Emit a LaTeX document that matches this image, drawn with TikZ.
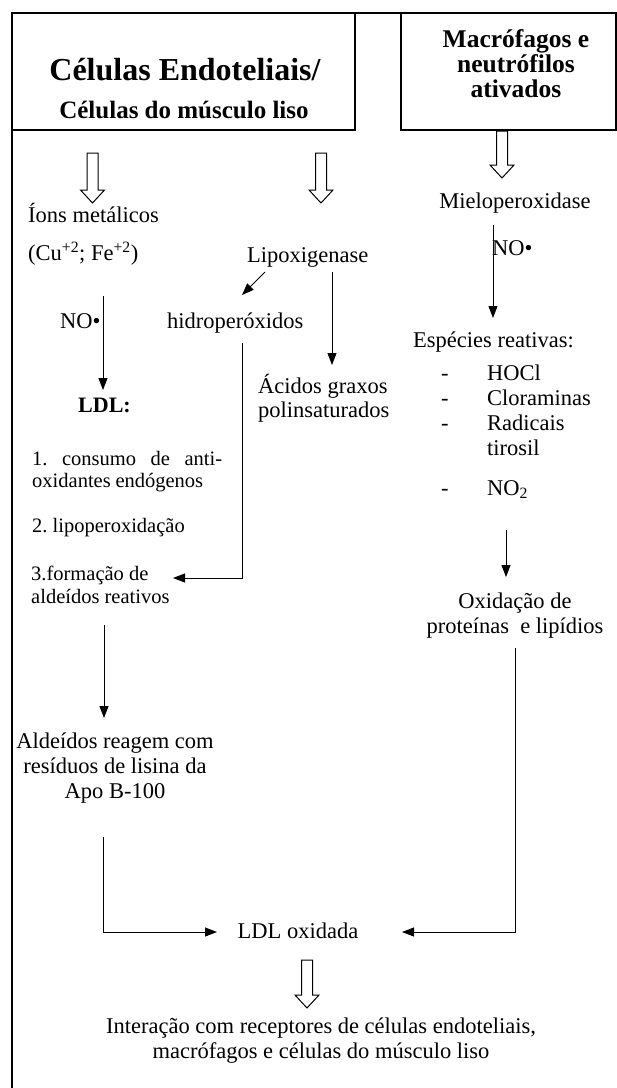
\documentclass[tikz,border=0pt]{standalone}
\usepackage{fontspec}
\setmainfont{Liberation Serif}
\usetikzlibrary{arrows.meta}
\newcommand\hollowarr[4]{%
  \draw[hollow] (#1-5.5,#2) -- (#1+5.5,#2) -- (#1+5.5,#3) -- (#1+12,#3) -- (#1,#4) -- (#1-12,#3) -- (#1-5.5,#3) -- cycle;}
\begin{document}
\frenchspacing
\begin{tikzpicture}[x=1pt,y=-1pt,
  txt/.style={inner sep=0pt, font=\fontsize{22.5}{25}\selectfont},
  sm/.style={inner sep=0pt, font=\fontsize{20.5}{22}\selectfont},
  boxst/.style={draw, line width=1.6pt, inner sep=0pt},
  frame/.style={line width=1.6pt},
  hollow/.style={line width=1pt, fill=white, line join=miter},
  arr/.style={line width=0.9pt, -{Triangle[length=12pt,width=9pt]}},
  lin/.style={line width=0.9pt}]
\useasboundingbox (0,0) rectangle (617,1088);
% frame and boxes
\draw[frame] (12,1088) -- (12,13) -- (617,13);
\node[boxst, minimum width=343pt, minimum height=117pt] (lbox) at (183.5,71.5) {};
\node[boxst, minimum width=215pt, minimum height=117pt] (rbox) at (508.5,71.5) {};
\node[inner sep=0pt, font=\fontsize{32}{34}\bfseries\selectfont, anchor=base] (t1) at (185,80) {Células Endoteliais/};
\node[inner sep=0pt, font=\fontsize{25}{27}\bfseries\selectfont, anchor=base] (t2) at (184,118) {Células do músculo liso};
\node[inner sep=0pt, font=\fontsize{25.5}{25}\bfseries\selectfont, anchor=base] (m1) at (516,47) {Macrófagos e};
\node[inner sep=0pt, font=\fontsize{25.5}{25}\bfseries\selectfont, anchor=base] (m2) at (516,72) {neutrófilos};
\node[inner sep=0pt, font=\fontsize{25.5}{25}\bfseries\selectfont, anchor=base] (m3) at (516,97) {ativados};
% hollow arrows
\hollowarr{92.5}{153}{190}{203}
\hollowarr{321}{153}{190}{203}
\hollowarr{502}{131}{165}{178}
\hollowarr{307}{960}{995}{1008}
% left column
\node[txt, anchor=base west] (ions) at (28,222) {Íons metálicos};
\node[txt, anchor=base west] (cufe) at (28,260) {(Cu\textsuperscript{+2}; Fe\textsuperscript{+2})};
\node[txt, anchor=base west] (no1) at (60,328) {NO•};
\node[inner sep=0pt, font=\fontsize{22}{24}\bfseries\selectfont, anchor=base west] (ldl) at (78,412) {LDL:};
\node[sm, anchor=base west] (i1a) at (32,465) {\makebox[190pt][s]{1. consumo de anti-}};
\node[sm, anchor=base west] (i1b) at (32,487) {\makebox[171pt][s]{oxidantes endógenos}};
\node[sm, anchor=base west] (i2) at (32,532) {2. lipoperoxidação};
\node[sm, anchor=base west] (i3a) at (31,580) {3.formação de};
\node[sm, anchor=base west] (i3b) at (31,603) {aldeídos reativos};
\node[txt, anchor=base] (al1) at (115,748) {Aldeídos reagem com};
\node[txt, anchor=base] (al2) at (115,773) {resíduos de lisina da};
\node[txt, anchor=base] (al3) at (115,798) {Apo B-100};
% middle column
\node[txt, anchor=base west] (lipox) at (247,262) {Lipoxigenase};
\node[txt, anchor=base west] (hidro) at (167,328) {hidroperóxidos};
\node[txt, anchor=base west] (ac1) at (258,393) {Ácidos graxos};
\node[txt, anchor=base west] (ac2) at (258,417) {polinsaturados};
% right column
\node[txt, anchor=base] (mielo) at (515,208) {Mieloperoxidase};
\node[txt, anchor=base west] (no2) at (492,255) {NO•};
\node[txt, anchor=base west] (esp) at (413,347) {Espécies reativas:};
\node[txt, anchor=base west] (d1) at (441,380) {-};
\node[txt, anchor=base west] (e1) at (487,380) {HOCl};
\node[txt, anchor=base west] (d2) at (441,405) {-};
\node[txt, anchor=base west] (e2) at (487,405) {Cloraminas};
\node[txt, anchor=base west] (d3) at (441,430) {-};
\node[txt, anchor=base west] (e3) at (487,430) {Radicais};
\node[txt, anchor=base west] (e3b) at (487,455) {tirosil};
\node[txt, anchor=base west] (d4) at (441,495) {-};
\node[txt, anchor=base west] (e4) at (487,495) {NO\textsubscript{2}};
\node[txt, anchor=base] (ox1) at (515,608) {Oxidação de};
\node[txt, anchor=base] (ox2) at (515,633) {proteínas\ \ e lipídios};
% bottom
\node[txt, anchor=base] (ldlox) at (298,938) {LDL oxidada};
\node[txt, anchor=base] (int1) at (321,1033) {Interação com receptores de células endoteliais,};
\node[txt, anchor=base] (int2) at (321,1058) {macrófagos e células do músculo liso};
% connectors
\coordinate (c1) at (103,296);
\coordinate (c2) at (103,390);
\draw[arr] (c1) -- (c2);
\draw[arr] (265,272) -- (242,295);
\draw[arr] (332,272) -- (332,365);
\draw[arr] (242,343) -- (242,578) -- (173,578);
\draw[arr] (104,625) -- (104,718);
\draw[arr] (103,837) -- (103,932) -- (217,932);
\draw[arr] (515,648) -- (515,932) -- (402,932);
\draw[arr] (493,225) -- (493,318);
\draw[arr] (506,530) -- (506,577);
\end{tikzpicture}
\end{document}
